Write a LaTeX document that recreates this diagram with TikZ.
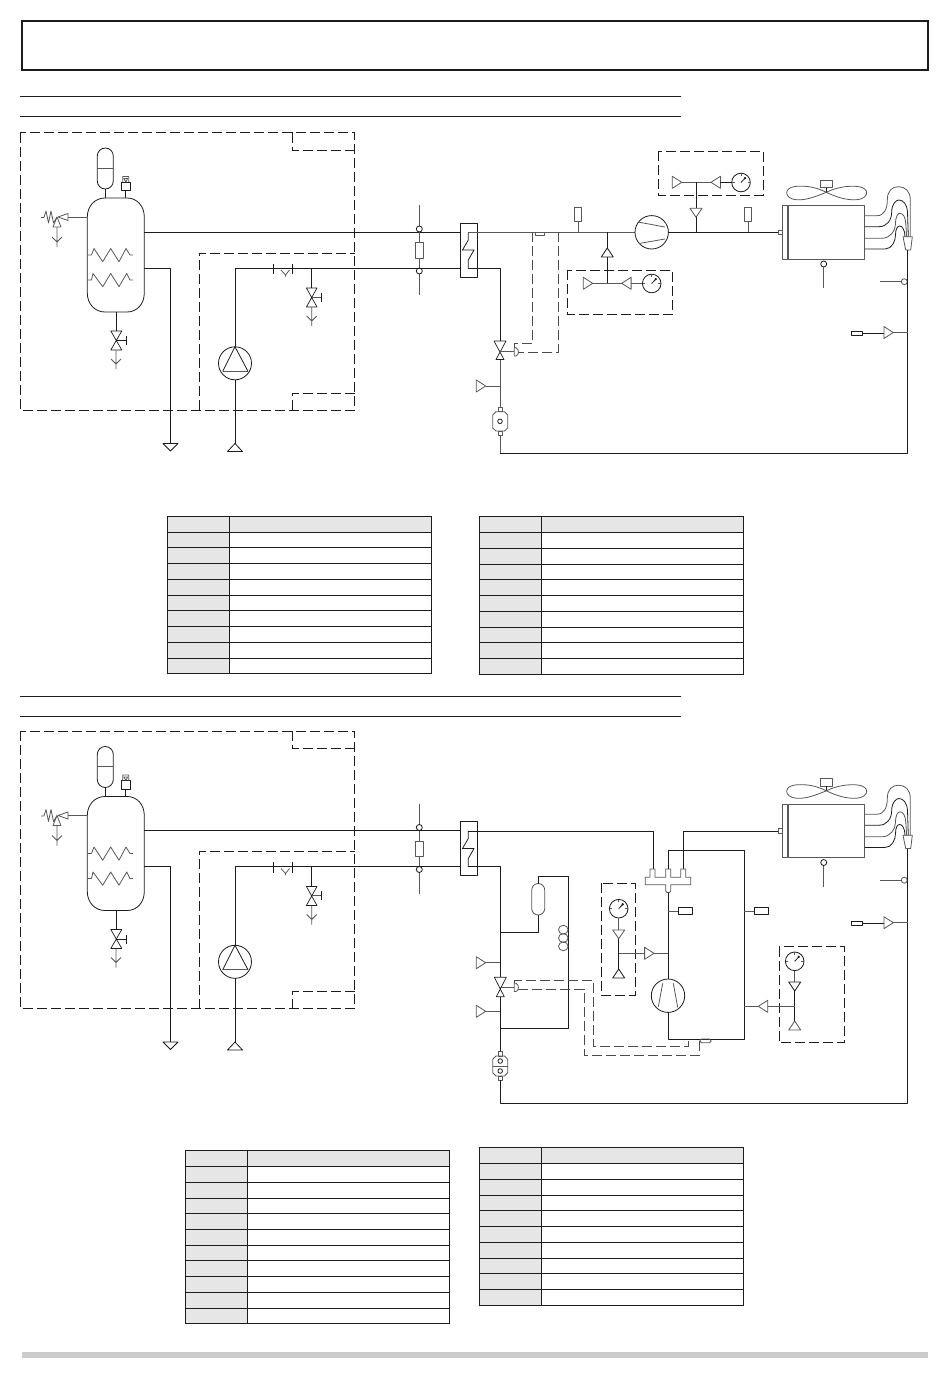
\documentclass[tikz,border=0pt]{standalone}
\definecolor{ink}{HTML}{1C1C1C}
\definecolor{gry}{HTML}{585858}
\definecolor{cellgrey}{HTML}{E6E6E6}
\definecolor{barGrey}{HTML}{CCCCCC}
\tikzset{
  ln/.style={draw=ink,line width=0.8pt,line join=round},
  gl/.style={draw=gry,line width=0.8pt,line join=round},
  zone/.style={draw=ink,line width=0.9pt,dash pattern=on 10pt off 4pt},
  bulbline/.style={draw=gry!85!black,line width=0.9pt,dash pattern=on 10pt off 4pt},
  tline/.style={draw=ink,line width=1pt},
}
% triangles: tip at (#1,#2)
\newcommand\triR[2]{\draw[gl] ({#1-9.4},{#2-6}) -- (#1,#2) -- ({#1-9.4},{#2+6}) -- cycle;}
\newcommand\triL[2]{\draw[gl] ({#1+9.4},{#2-6}) -- (#1,#2) -- ({#1+9.4},{#2+6}) -- cycle;}
\newcommand\triU[2]{\draw[ln] ({#1-6},{#2+9}) -- (#1,#2) -- ({#1+6},{#2+9}) -- cycle;}
% gauge centred on (#1,#2)
\newcommand\gauge[2]{
  \draw[ln] (#1,#2) circle (9.3);
  \draw[ln] (#1,#2) -- ({#1+4.5},{#2-4.8});
  \fill[ink] ({#1+4},{#2-4.4}) circle (1.3);
  \draw[gl,line width=0.5pt] (#1,{#2-9}) -- (#1,{#2-6.5}) ({#1-9},#2) -- ({#1-6.5},#2) ({#1+9},#2) -- ({#1+6.5},#2);
}
% valve (hourglass) with vertical axis: x, ytop, ybottom, half width top, half width bottom
\newcommand\valve[5]{\draw[draw=ink,line width=0.7pt,line join=round] ({#1-#4},#2) -- ({#1+#4},#2) -- ({#1-#5},#3) -- ({#1+#5},#3) -- cycle;}
% drain funnel
\newcommand\drain[3]{\draw[gl] (#1,#2) -- (#1,#3) ({#1-5},{#3-10}) -- (#1,{#3-5}) -- ({#1+5},{#3-10});}
% table grid
\newcommand\gridtable[4]{ % x0, xc, x1, list of y
  \foreach \yy [count=\i] in {#4} {
    \ifnum\i=1 \xdef\ytop{\yy}\fi
    \ifnum\i=2 \xdef\ysec{\yy}\fi
    \xdef\ylast{\yy}
  }
  \fill[cellgrey] (#1,\ytop) rectangle (#3,\ysec);
  \fill[cellgrey] (#1,\ytop) rectangle (#2,\ylast);
  \foreach \yy in {#4} { \draw[tline] (#1,\yy) -- (#3,\yy); }
  \draw[tline] (#1,\ytop) rectangle (#3,\ylast);
  \draw[tline] (#2,\ytop) -- (#2,\ylast);
}
% the plant side, repeated in both schemes
\newcommand\plantblock{
  \draw[zone] (20.5,132.5) rectangle (354.5,410);
  \draw[zone] (292,132.5) -- (292,150) -- (354.5,150);
  \draw[zone] (199,410) -- (199,253) -- (354.5,253);
  \draw[zone] (292,410) -- (292,393) -- (354.5,393);
  % tank
  \draw[ln] (87.3,217) .. controls (87.3,206) and (95,198) .. (105,198) -- (127,198) .. controls (137,198) and (144.3,206) .. (144.3,217)
     -- (144.3,293) .. controls (144.3,304) and (137,312) .. (127,312) -- (105,312) .. controls (95,312) and (87.3,304) .. (87.3,293) -- cycle;
  % expansion vessel
  \draw[ln] (97.3,156) arc[start angle=180,end angle=360,radius=8] -- (113.3,181) arc[start angle=0,end angle=180,radius=8] -- cycle;
  \draw[gl] (97.3,168) -- (113.3,168);
  \draw[ln] (105.3,189) -- (105.3,198);
  % air vent
  \draw[ln] (121.7,182) rectangle (130,190.5);
  \draw[gl] (122.8,182) -- (122.8,176.5) -- (128.8,176.5) -- (128.8,182) (124,178.5) -- (125.8,182) -- (127.6,178.5) -- cycle;
  \draw[ln] (125.6,190.5) -- (125.6,198);
  % relief valve
  \draw[gl] (87.3,217) -- (68,217);
  \draw[gl] (68,213.5) -- (58,217) -- (68,220.5) -- cycle;
  \draw[gl] (41,217.5) -- (44,217.5) -- (46,211) -- (48.5,223) -- (51,211) -- (53.5,223) -- (57,217);
  \draw[gl] (57,217) -- (53,227) -- (61,227) -- cycle;
  \drain{57}{227}{247}
  % heat coils
  \draw[gl] (88,255) -- (91.5,255) -- (94,248.5) -- (102.7,261.7) -- (110.7,248.5) -- (119,261.7) -- (126,248.5) -- (130,255) -- (133,255);
  \draw[gl] (88,280) -- (91.5,280) -- (93,273.5) -- (102.7,286.7) -- (110.7,273.5) -- (119,286.7) -- (126.7,273.5) -- (130,280) -- (133,280);
  % tank drain
  \draw[ln] (116.3,312) -- (116.3,331);
  \valve{116.3}{331}{350}{5.5}{5.5}
  \draw[ln] (116.3,340.5) -- (126.5,340.5) (126.5,336) -- (126.5,345);
  \drain{116}{350}{369}
  % pipes
  \draw[ln] (144.3,232.3) -- (460,232.3);
  \draw[ln] (144.3,268.3) -- (170.5,268.3) -- (170.5,443.5);
  \draw[ln] (163,443.5) -- (178,443.5) -- (170.5,451) -- cycle;
  % pump
  \draw[ln] (235,363.3) circle (16.5);
  \draw[ln] (222.7,371.3) -- (235,346.8) -- (248,371.3);
  \draw[gl] (222.7,371.3) -- (248,371.3);
  \draw[ln] (460,268.3) -- (235,268.3) -- (235,346.8);
  \draw[ln] (235,379.8) -- (235,443.5);
  \draw[ln] (235,443.5) -- (227.5,451.5) -- (242.5,451.5) -- cycle;
  % check valve
  \draw[ln] (273.3,263.5) -- (273.3,274) (292.3,263.5) -- (292.3,274);
  \draw[gl] (281,270) -- (285.5,275) -- (289.5,270) (285.5,275) -- (285.5,276.5);
  % line drain
  \draw[ln] (311.7,268.3) -- (311.7,288);
  \valve{311.7}{288}{307}{5.3}{5.3}
  \draw[gl] (311.7,297) -- (321.7,297);
  \draw[ln] (321.7,292.7) -- (321.7,301.7);
  \drain{311.7}{307}{326}
  % coupling
  \draw[gl] (419.3,205) -- (419.3,226) (419.3,232) -- (419.3,242.7) (419.3,258) -- (419.3,268) (419.3,274) -- (419.3,295);
  \draw[ln] (419.3,229) circle (3);
  \draw[ln] (419.3,271) circle (3);
  \draw[gl] (415,242.7) rectangle (423.7,258);
  % plate exchanger
  \draw[ln] (460,223) rectangle (477,277);
  \draw[ln] (468.3,232.3) -- (468.3,240) -- (462.5,250) -- (474,250) -- (468.3,260) -- (468.3,268.3);
}
% condenser with fan and distributor
\newcommand\condenser{
  \draw[gl] (782.3,205.7) rectangle (787,259);
  \draw[gl] (788.3,205.5) rectangle (864.8,259);
  \draw[gl] (778.3,230.3) -- (782.3,230.3) (778.3,234.5) -- (782.3,234.5) (778.3,230.3) -- (778.3,234.5);
  % fan
  \draw[gl] (820.3,180) rectangle (832.7,187.7);
  \draw[ln] (826.3,187.7) -- (826.3,192.3);
  \draw[gl] (826.3,192.3) .. controls (812,185) and (800,186) .. (795,186.5) .. controls (789,187.3) and (786.7,190) .. (786.7,192.8) .. controls (786.7,196) and (790,199.5) .. (797,199.8) .. controls (806,200.2) and (815,197) .. (826.3,192.3)
     .. controls (838,186.5) and (850,185.7) .. (858,186.5) .. controls (864,187.3) and (866.7,190) .. (866.7,192.8) .. controls (866.7,196) and (863,199.5) .. (856,199.8) .. controls (846,200.2) and (836,197) .. (826.3,192.3);
  % outlets
  \draw[gl] (864.8,215.7) -- (877,215.7) .. controls (884,215.7) and (887.3,209) .. (887.3,200) .. controls (887.3,191) and (892,186.7) .. (898.5,186.7) .. controls (905,186.7) and (910.3,191) .. (910.3,200) -- (910.3,237);
  \draw[ln] (864.8,226.7) -- (879,226.7) .. controls (887,226.7) and (891.7,220) .. (891.7,212) .. controls (891.7,204) and (896,200) .. (899,200) .. controls (903,200) and (907,204) .. (907.5,212) -- (908.3,237);
  \draw[gl] (864.8,238.3) -- (882,238.3) .. controls (890,238.3) and (895.5,231) .. (895.5,224) .. controls (895.5,216) and (898,213.3) .. (900,213.3) .. controls (903,213.3) and (905.5,217) .. (905.8,224) -- (906.7,237);
  \draw[ln] (864.8,249) -- (885,249) .. controls (892,249) and (895.5,241) .. (895.5,235) .. controls (895.5,229) and (897.5,226) .. (899.5,226) .. controls (902,226) and (904,229) .. (904.5,232) -- (905,237);
  \draw[gl] (903,236.7) -- (912.3,236.7) -- (910.7,250) -- (905.7,250) -- cycle;
  % sensor below
  \draw[ln] (823.7,264) circle (3);
  \draw[gl] (823.7,267) -- (823.7,288);
  % sensor on return line
  \draw[gl] (880,281.7) -- (901.3,281.7);
  \draw[gl] (904.3,281.7) circle (3);
}
\begin{document}
\begin{tikzpicture}[x=1pt,y=-1pt]
\useasboundingbox (0,0) rectangle (950,1378);
\fill[white] (0,0) rectangle (950,1378);
% header
\draw[ink,line width=2pt] (22,21.5) rectangle (928,70);
\draw[tline] (20,96.5) -- (681,96.5);
\draw[tline] (20,116.5) -- (681,116.5);
\draw[tline] (20,696.5) -- (681,696.5);
\draw[tline] (20,716.5) -- (681,716.5);
\fill[barGrey] (22,1352) rectangle (928,1357.5);

% ===== upper scheme =====
\plantblock
\condenser
\draw[gl] (468.3,232.3) -- (634.8,232.3);
\draw[ln] (668.8,232.3) -- (778.3,232.3);
\draw[ln] (468.3,268.3) -- (500,268.3) -- (500,341);
% compressor
\draw[ln] (651.7,232.3) circle (16.7);
\draw[gl] (639,222.2) -- (665,227) (639,243.5) -- (665,239);
% suction sensor and service
\draw[gl] (574.3,207.7) rectangle (581.7,221.7);
\draw[gl] (578,221.7) -- (578,232.3);
\draw[gl] (744.3,207.7) rectangle (751.7,221.3);
\draw[gl] (748,221.3) -- (748,232.3);
% lower gauge group
\draw[zone] (567.3,270.3) rectangle (672.7,314.3);
\draw[ln] (607.3,232.3) -- (607.3,248);
\triU{607.3}{248}
\draw[ln] (607.3,257) -- (607.3,283.3);
\draw[gl] (592.7,283.3) -- (621.7,283.3);
\triR{592.7}{283.3}
\triL{621.7}{283.3}
\draw[gl] (631.1,283.3) -- (642.4,283.3);
\gauge{651.7}{283.5}
% upper gauge group
\draw[zone] (658.3,151) rectangle (763.3,195);
\triR{681.7}{182.3}
\triL{711}{182.3}
\draw[gl] (681.7,182.3) -- (711,182.3);
\draw[ln] (720.4,182.3) -- (731.7,182.3);
\gauge{741}{182.5}
\draw[ln] (696,182.3) -- (696,208.3);
\draw[gl] (690,208.3) -- (702,208.3) -- (696,217.3) -- cycle;
\draw[ln] (696,217.3) -- (696,232.3);
% expansion valve
\valve{500}{341}{359.5}{6}{4}
\draw[gl] (500,351) -- (514.3,351);
\draw[gl] (514.3,347.8) -- (516,347.8) .. controls (518,349) and (518.4,350) .. (518.4,352) .. controls (518.4,354) and (518,355) .. (516,356) -- (514.3,356) -- cycle;
\draw[gl] (535,232) rectangle (544,235.5);
\draw[bulbline] (532.7,232.3) -- (532.7,343.3) -- (514.3,343.3) -- (514.3,347.8);
\draw[bulbline] (558.3,232.3) -- (558.3,352.3) -- (518.4,352.3);
% filter and return
\draw[gl] (500,359.5) -- (500,407.3);
\triR{485.7}{386}
\draw[gl] (485.7,386) -- (500,386);
\draw[gl] (498,407.3) rectangle (502.3,411.7);
\draw[gl] (496,411.7) -- (504.5,411.7) -- (507.7,415) -- (507.7,428) -- (504.5,431) -- (496,431) -- (492.7,428) -- (492.7,415) -- cycle;
\draw[ln] (500,421.3) circle (2.3);
\draw[gl] (498,431) rectangle (502.3,435);
\draw[gl] (500,435) -- (500,453.3);
\draw[ln] (500,453.3) -- (907.7,453.3) -- (907.7,250);
\triR{893.3}{332.5}
\draw[gl] (893.3,332.5) -- (907.7,332.5);
\draw[ln] (862.7,333.3) -- (883.9,333.3);
\draw[ln] (851.7,331.3) rectangle (862.7,335.3);

% ===== lower scheme =====
\begin{scope}[yshift=-598.5pt]
\plantblock
\condenser
\end{scope}
\draw[ln] (468.3,831) -- (653.3,831) -- (653.3,869);
\draw[ln] (468.3,866.8) -- (500.3,866.8) -- (500.3,977.3);
% receiver branch
\draw[ln] (500.3,932.7) -- (538.3,932.7) -- (538.3,915);
\draw[gl] (531.7,890) arc[start angle=180,end angle=360,radius=6.5] -- (544.7,908.5) arc[start angle=0,end angle=180,radius=6.5] -- cycle;
\draw[ln] (538.3,883.5) -- (538.3,876.3) -- (568.3,876.3) -- (568.3,1028.3) -- (500.3,1028.3);
\draw[gl] (563.3,929.7) ellipse (4.8 and 4.4);
\draw[gl] (563.3,938) ellipse (4.8 and 4.4);
\draw[gl] (563.3,946.3) ellipse (4.8 and 4.4);
% manifold
\draw[gl] (645.3,877.3) -- (650,877.3) -- (650,869) -- (655,869) -- (655,877.3) -- (665.8,877.3) -- (665.8,869) -- (670.8,869) -- (670.8,877.3) -- (680.8,877.3) -- (680.8,869) -- (685.8,869) -- (685.8,877.3) -- (690.7,877.3) -- (690.7,884.7) -- (670.8,884.7) -- (670.8,891) -- (669.5,892.5) -- (667,892.5) -- (665.8,891) -- (665.8,884.7) -- (645.3,884.7) -- cycle;
\draw[ln] (668.3,869) -- (668.3,850) -- (744.3,850) -- (744.3,1039) -- (668.3,1039) -- (668.3,1012.4);
\draw[ln] (683.3,869) -- (683.3,831) -- (778.3,831);
\draw[ln] (668.3,892.5) -- (668.3,979);
% compressor
\draw[ln] (668,995.7) circle (16.7);
\draw[gl] (658.3,1006.7) -- (662.7,983.3) (673.3,983.3) -- (677.7,1007.3);
% sensors
\draw[gl] (668.3,911) -- (678.3,911);
\draw[ln] (678.3,907.3) rectangle (692.7,914.7);
\draw[gl] (744.3,911) -- (754.7,911);
\draw[ln] (754.7,907.3) rectangle (768.7,914.7);
% left gauge group
\draw[zone] (601.3,883.3) rectangle (635.3,995.3);
\gauge{618.7}{908.7}
\draw[gl] (618.7,918) -- (618.7,930);
\draw[gl] (612.7,930) -- (624.7,930) -- (618.7,938.7) -- cycle;
\draw[ln] (618.7,938.7) -- (618.7,969);
\triU{618.7}{969}
\draw[gl] (618.7,953.3) -- (644.6,953.3);
\triR{654}{953.3}
\draw[gl] (654,953.3) -- (668.3,953.3);
% right gauge group
\draw[zone] (779.3,946.7) rectangle (844.7,1042.7);
\gauge{794.7}{961.3}
\draw[gl] (794.7,970.6) -- (794.7,982);
\draw[ln] (788.7,982) -- (800.7,982) -- (794.7,991) -- cycle;
\draw[ln] (794.7,991) -- (794.7,1021);
\draw[gl] (788.7,1030) -- (794.7,1021) -- (800.7,1030) -- cycle;
\triL{758.3}{1006.3}
\draw[gl] (767.7,1006.3) -- (794.7,1006.3);
\draw[gl] (758.3,1006.3) -- (744.3,1006.3);
% valve and bulb lines
\valve{500.3}{977.3}{996.7}{6}{4}
\draw[gl] (500.3,987) -- (514.3,987);
\draw[gl] (514.3,983.3) -- (516,983.3) .. controls (518,984.5) and (518.4,985.5) .. (518.4,987.5) .. controls (518.4,989.5) and (518,990.5) .. (516,991.5) -- (514.3,991.5) -- cycle;
\draw[bulbline] (514.3,983.3) -- (514.3,980.7) -- (593.3,980.7) -- (593.3,1046.3) -- (688.7,1046.3) -- (688.7,1039);
\draw[bulbline] (518.4,989) -- (584.3,989) -- (584.3,1055.3) -- (699.3,1055.3) -- (699.3,1040.5);
\draw[gl,rounded corners=1.5pt] (700,1039) rectangle (711,1042.7);
% side service ports
\triR{485.7}{962.7}
\draw[gl] (485.7,962.7) -- (500.3,962.7);
\triR{485.7}{1011.3}
\draw[gl] (485.7,1011.3) -- (500.3,1011.3);
% filter with two cartridges
\draw[ln] (500.3,996.7) -- (500.3,1051.7);
\draw[gl] (498,1051.7) rectangle (502.4,1056);
\draw[gl] (496,1056) -- (504.5,1056) -- (507.7,1059.3) -- (507.7,1072.7) -- (504.5,1076) -- (496,1076) -- (492.7,1072.7) -- (492.7,1059.3) -- cycle;
\draw[gl] (492.7,1066) -- (507.7,1066);
\draw[ln] (500.2,1061) circle (2.3);
\draw[ln] (500.2,1071) circle (2.3);
\draw[gl] (498,1076) rectangle (502.4,1080);
\draw[ln] (500.3,1080) -- (500.3,1103.3) -- (907.5,1103.3) -- (907.5,848.5);
\triR{893.3}{922.7}
\draw[gl] (893.3,922.7) -- (907.5,922.7);
\draw[ln] (862.7,923.3) -- (883.9,923.3);
\draw[ln] (851.3,921.3) rectangle (862.7,925.3);

% ===== tables =====
\gridtable{167.3}{229.3}{431.5}{516.2,532.3,547.3,563.3,579.3,595.3,610.3,626.3,642.3,658.3,673.3}
\gridtable{479.5}{541.5}{743.5}{516.3,532.3,548.3,564.3,579.3,595.3,611.3,627.3,642.3,658.3,674.3}
\gridtable{185}{247.3}{449.3}{1150.3,1166.3,1182.3,1198.3,1213.3,1229.3,1245.3,1260.3,1276.3,1292.3,1308.3,1323.3}
\gridtable{479.3}{541.3}{743.3}{1147.3,1163.3,1179.3,1195.3,1210.3,1226.3,1242.3,1258.3,1273.3,1289.3,1305.3}
\end{tikzpicture}
\end{document}
